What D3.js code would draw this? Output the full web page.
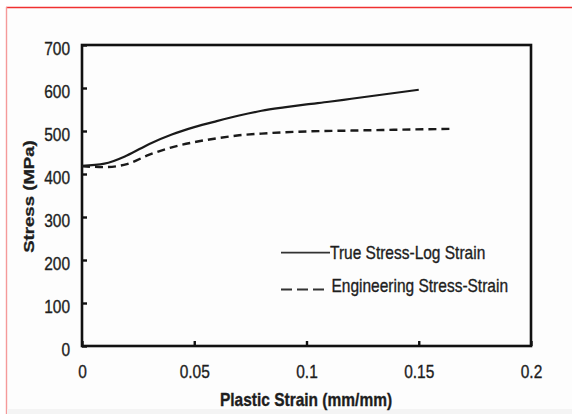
<!DOCTYPE html>
<html>
<head>
<meta charset="utf-8">
<script src="https://cdn.jsdelivr.net/npm/d3@7"></script>
<style>
  html, body { margin: 0; padding: 0; background: #fff; }
  svg { display: block; }
  text { font-family: "Liberation Sans", Arial, sans-serif; fill: #1e1e1e; stroke: #1e1e1e; stroke-width: 0.3px; }
</style>
</head>
<body>
<svg id="chart" width="572" height="414"></svg>
<script>
// ---- data ----
const xTicks = [0, 0.05, 0.1, 0.15, 0.2];
const xTickLabels = ["0", "0.05", "0.1", "0.15", "0.2"];
const yTicks = [0, 100, 200, 300, 400, 500, 600, 700];
const yTickLabels = ["0", "100", "200", "300", "400", "500", "600", "700"];

const trueStrain = [0, 0.01, 0.02, 0.03, 0.04, 0.05, 0.06, 0.07, 0.08, 0.09, 0.10, 0.11, 0.12, 0.13, 0.14, 0.15];
const trueStress = [419, 424, 443, 470, 492, 509, 523, 536, 547, 555, 562, 568, 575, 582, 589, 596];

const engStrain = [0, 0.01, 0.02, 0.03, 0.04, 0.05, 0.06, 0.07, 0.08, 0.09, 0.10, 0.12, 0.14, 0.165];
const engStress = [418, 416, 423, 445, 462, 474, 483, 490, 494, 497, 499, 501, 503, 505];

const seriesNames = ["True Stress-Log Strain", "Engineering Stress-Strain"];
const xTitle = "Plastic Strain (mm/mm)";
const yTitle = "Stress (MPa)";

// ---- drawing ----
const svg = d3.select("#chart");
const FS = 15.5, SY = 1.2;

// background / frame of picture
svg.append("rect").attr("x", 0).attr("y", 0).attr("width", 572).attr("height", 414).attr("fill", "#ffffff");
svg.append("rect").attr("x", 7).attr("y", 8).attr("width", 565).attr("height", 401).attr("fill", "#fdfdfd");
svg.append("line").attr("x1", 6).attr("x2", 572).attr("y1", 7.5).attr("y2", 7.5)
  .attr("stroke", "#f03030").attr("stroke-width", 1.6);
svg.append("line").attr("x1", 6.5).attr("x2", 6.5).attr("y1", 7).attr("y2", 414)
  .attr("stroke", "#f59a9a").attr("stroke-width", 1.4);
svg.append("rect").attr("x", 7).attr("y", 409).attr("width", 565).attr("height", 5).attr("fill", "#f4f4f4");

const x = d3.scaleLinear().domain([0, 0.2]).range([82, 531]);
const y = d3.scaleLinear().domain([0, 700]).range([346, 45]);

// axes
const xAxis = d3.axisBottom(x).tickValues(xTicks)
  .tickFormat((d, i) => xTickLabels[i]).tickSizeInner(-5).tickSizeOuter(0).tickPadding(0);
const gx = svg.append("g").attr("transform", `translate(0,${y(0)})`).call(xAxis);
const yAxis = d3.axisLeft(y).tickValues(yTicks)
  .tickFormat((d, i) => yTickLabels[i]).tickSizeInner(-5).tickSizeOuter(0).tickPadding(12);
const gy = svg.append("g").attr("transform", `translate(${x(0)},0)`).call(yAxis);

[gx, gy].forEach(g => {
  g.select(".domain").remove();
  g.selectAll(".tick line").attr("stroke", "#111").attr("stroke-width", 2.4);
  g.selectAll(".tick text").attr("font-size", FS).attr("fill", "#1e1e1e")
    .style("font-family", "'Liberation Sans', Arial, sans-serif");
});
gx.selectAll(".tick text").attr("dy", null).attr("y", 32 / SY).attr("transform", `scale(1,${SY})`);
gy.selectAll(".tick text").attr("dy", null).attr("y", 9 / SY).attr("transform", `scale(1,${SY})`);

// plot frame
svg.append("rect")
  .attr("x", x(0)).attr("y", y(700))
  .attr("width", x(0.2) - x(0)).attr("height", y(0) - y(700))
  .attr("fill", "none").attr("stroke", "#111").attr("stroke-width", 2.6);

// curves
const line = d3.line().x(d => x(d[0])).y(d => y(d[1])).curve(d3.curveMonotoneX);
const trueData = trueStrain.map((s, i) => [s, trueStress[i]]);
const engData = engStrain.map((s, i) => [s, engStress[i]]);

svg.append("path").datum(trueData).attr("d", line)
  .attr("fill", "none").attr("stroke", "#1a1a1a").attr("stroke-width", 2.2);
svg.append("path").datum(engData).attr("d", line)
  .attr("fill", "none").attr("stroke", "#1a1a1a").attr("stroke-width", 2.4)
  .attr("stroke-dasharray", "8,5");

// legend
svg.append("line").attr("x1", 281).attr("x2", 330).attr("y1", 252.7).attr("y2", 252.7)
  .attr("stroke", "#333").attr("stroke-width", 1.8);
svg.append("line").attr("x1", 281).attr("x2", 324).attr("y1", 289.5).attr("y2", 289.5)
  .attr("stroke", "#333").attr("stroke-width", 1.8).attr("stroke-dasharray", "11,5");
svg.append("text").attr("transform", `translate(330,259) scale(1,${SY})`)
  .attr("font-size", FS).text(seriesNames[0]);
svg.append("text").attr("transform", `translate(331.5,291.5) scale(1,${SY})`)
  .attr("font-size", FS).text(seriesNames[1]);

// axis titles
svg.append("text").attr("transform", `translate(306,406) scale(1,${SY})`)
  .attr("text-anchor", "middle").attr("font-size", FS).attr("font-weight", "bold").text(xTitle);
svg.append("text").attr("transform", `translate(33.5,196.5) scale(1,${SY}) rotate(-90)`)
  .attr("text-anchor", "middle").attr("font-size", FS).attr("font-weight", "bold").text(yTitle);
</script>
</body>
</html>
